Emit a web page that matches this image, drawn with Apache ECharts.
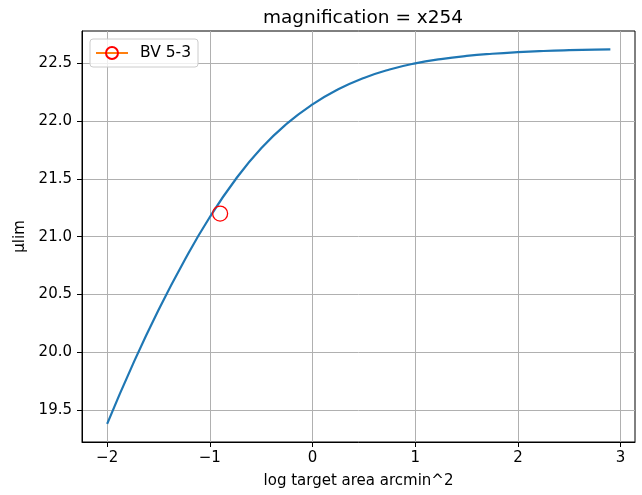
<!DOCTYPE html>
<html>
<head>
<meta charset="utf-8">
<script src="https://cdn.jsdelivr.net/npm/echarts@6/dist/echarts.min.js"></script>
<style>html,body{margin:0;padding:0;background:#fff}#c{width:642px;height:495px}</style>
</head>
<body>
<div id="c"></div>
<script>
const titleText = 'magnification = x254';
const xLabel = 'log target area arcmin^2';
const yLabel = 'μlim';
const seriesCurveName = 'curve';
const seriesPointName = 'BV 5-3';
const xValues = [-2.0, -1.75, -1.5, -1.25, -1.0, -0.75, -0.5, -0.25, 0, 0.25, 0.5, 0.75, 1.0, 1.25, 1.5, 1.75, 2.0, 2.25, 2.5, 2.75, 2.9];
const muLim = [19.38, 19.895, 20.365, 20.79, 21.17, 21.495, 21.765, 21.978, 22.145, 22.275, 22.374, 22.447, 22.50, 22.537, 22.564, 22.583, 22.597, 22.607, 22.614, 22.619, 22.621];
const pointX = [-0.9];
const pointY = [21.2];
const xTicks = [-2, -1, 0, 1, 2, 3];
const yTicks = [19.5, 20.0, 20.5, 21.0, 21.5, 22.0, 22.5];

const chart = echarts.init(document.getElementById('c'), null, {renderer: 'canvas'});
const font = 'DejaVu Sans';
const fmtMinus = v => String(v).replace('-', '\u2212');
chart.setOption({
  animation: false,
  backgroundColor: '#fff',
  title: {
    text: titleText, left: 358, top: 4, textAlign: 'center',
    textStyle: {fontFamily: font, fontSize: 18.5, fontWeight: 'normal', color: '#000'}
  },
  grid: {left: 82, right: 7, top: 31, bottom: 53, show: true, borderColor: '#000', borderWidth: 1, backgroundColor: 'transparent'},
  legend: {
    data: [seriesPointName], left: 90, top: 39,
    padding: [6, 7, 6, 5], itemWidth: 32, itemHeight: 15,
    backgroundColor: 'rgba(255,255,255,0.8)', borderColor: '#cccccc', borderWidth: 1, borderRadius: 3,
    textStyle: {fontFamily: font, fontSize: 15.5, color: '#000', padding: [0, 0, 0, 7]}
  },
  xAxis: {
    type: 'value', min: -2.245, max: 3.14,
    name: xLabel, nameLocation: 'middle', nameGap: 32,
    nameTextStyle: {fontFamily: font, fontSize: 15, color: '#000'},
    axisLine: {show: true, onZero: false, lineStyle: {color: '#000', width: 1}},
    axisTick: {show: true, inside: false, length: 5, lineStyle: {color: '#000'}, customValues: xTicks},
    axisLabel: {fontFamily: font, fontSize: 15, color: '#000', margin: 9, customValues: xTicks, formatter: v => fmtMinus(v)},
    splitLine: {show: true, lineStyle: {color: '#b0b0b0', width: 1}}
  },
  yAxis: {
    type: 'value', min: 19.223, max: 22.78,
    name: yLabel, nameLocation: 'middle', nameGap: 50, nameRotate: 90,
    nameTextStyle: {fontFamily: font, fontSize: 15, color: '#000'},
    axisLine: {show: true, onZero: false, lineStyle: {color: '#000', width: 1}},
    axisTick: {show: true, inside: false, length: 5, lineStyle: {color: '#000'}, customValues: yTicks},
    axisLabel: {fontFamily: font, fontSize: 15, color: '#000', margin: 10, customValues: yTicks, formatter: v => Number(v).toFixed(1)},
    splitLine: {show: true, lineStyle: {color: '#b0b0b0', width: 1}}
  },
  series: [
    {
      name: seriesCurveName, type: 'line', data: xValues.map((x, i) => [x, muLim[i]]),
      showSymbol: false, symbol: 'none', smooth: 0.5,
      lineStyle: {color: '#1f77b4', width: 2.2}, itemStyle: {color: '#1f77b4'}, z: 3
    },
    {
      name: seriesPointName, type: 'line', data: pointX.map((x, i) => [x, pointY[i]]),
      symbol: 'circle', symbolSize: 15, showSymbol: true,
      lineStyle: {color: '#ff7f0e', width: 1.6},
      itemStyle: {color: 'rgba(0,0,0,0)', borderColor: '#ff0000', borderWidth: 1.3}, z: 4
    }
  ]
});
</script>
</body>
</html>
